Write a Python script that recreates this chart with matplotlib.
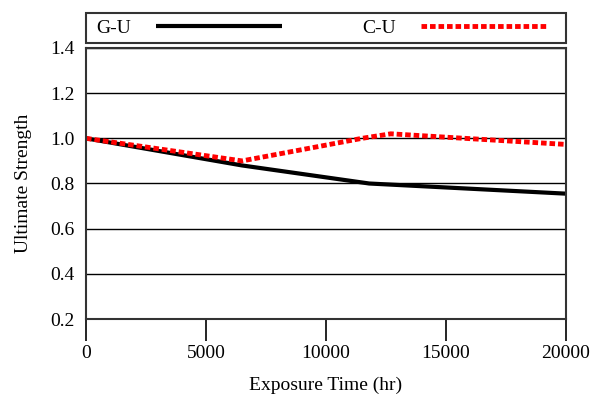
import numpy as np
import matplotlib.pyplot as plt
from matplotlib.patches import Rectangle

# values
time_gu = [0, 6500, 11800, 20000]
strength_gu = [1.0, 0.88, 0.80, 0.755]
time_cu = [0, 6500, 11500, 12700, 15000, 20000]
strength_cu = [1.0, 0.90, 1.0, 1.02, 1.005, 0.973]
x_ticks = [0, 5000, 10000, 15000, 20000]
y_ticks = [0.2, 0.4, 0.6, 0.8, 1.0, 1.2, 1.4]

plt.rcParams['font.family'] = ['Liberation Serif', 'DejaVu Serif']
plt.rcParams['font.size'] = 14

W, H = 590, 401
fig = plt.figure(figsize=(W / 100, H / 100), dpi=100)
ax = fig.add_axes([86 / W, 1 - 319 / H, 480 / W, 271 / H])

ax.plot(time_gu, strength_gu, color='black', lw=3, label='G-U', solid_capstyle='butt')
ax.plot(time_cu, strength_cu, color='red', lw=3.5, linestyle=(0, (1.15, 0.6)),
        dash_capstyle='butt', label='C-U')

ax.set_xlim(0, 20000)
ax.set_ylim(0.2, 1.4)
ax.set_xticks(x_ticks)
ax.set_yticks(y_ticks)
ax.set_yticklabels([f"{v:.1f}" for v in y_ticks])
ax.yaxis.grid(True, color='black', lw=1)
ax.tick_params(axis='y', length=0, pad=8)
ax.tick_params(axis='x', direction='out', length=16, width=1.2, pad=3)
for s in ax.spines.values():
    s.set_linewidth(1.5)
    s.set_color('#333333')

ax.set_xlabel("Exposure Time (hr)", labelpad=10)
ax.set_ylabel("Ultimate Strength", labelpad=13)

# legend frame drawn separately so the inner padding can differ left/right
fig.add_artist(Rectangle((86 / W, 1 - 43 / H), 480 / W, 30 / H, transform=fig.transFigure,
                         fill=False, ec='#333333', lw=1.5))
leg = fig.legend(loc='center left', bbox_to_anchor=(89 / W, 1 - 43 / H, 465 / W, 30 / H),
                 mode='expand', ncol=2, markerfirst=False, handlelength=6.5,
                 handletextpad=1.3, borderaxespad=0, frameon=False, borderpad=0.35)

fig.savefig("out.png", dpi=100)
